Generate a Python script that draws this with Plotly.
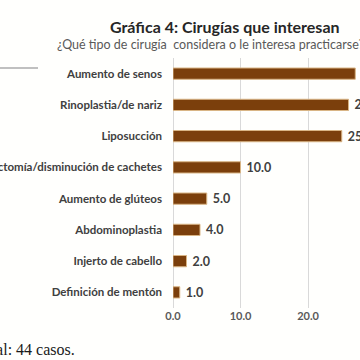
import plotly.graph_objects as go

categories = ["Aumento de senos", "Rinoplastia/de nariz", "Liposucción",
              "Bichectomía/disminución de cachetes", "Aumento de glúteos",
              "Abdominoplastia", "Injerto de cabello", "Definición de mentón"]
values = [27.0, 26.0, 25.0, 10.0, 5.0, 4.0, 2.0, 1.0]
tick_vals = [0, 10, 20]
tick_text = ["0.0", "10.0", "20.0"]

W, H = 360, 360
L, R, T, B = 173, 0, 58, 52
pw, ph = W - L - R, H - T - B

def px(x):
    return (x - L) / pw

def py(y):
    return (H - B - y) / ph

fig = go.Figure(go.Bar(
    x=values, y=categories, orientation="h",
    marker=dict(color="#7b3f0c", line=dict(color="#d9b585", width=1)),
    width=0.36,
    text=[" " + f"{v:.1f}" for v in values],
    textposition="outside", cliponaxis=False, constraintext="none",
    textfont=dict(family="Lato", size=12.5, color="#404040", weight="bold"),
))

fig.update_layout(
    width=W, height=H, margin=dict(l=L, r=R, t=T, b=B, autoexpand=False),
    paper_bgcolor="#fffffd", plot_bgcolor="#fffffd",
    showlegend=False,
    xaxis=dict(range=[0, 27.7], tickvals=tick_vals, ticktext=tick_text,
               showgrid=True, gridcolor="#d9d9d9", gridwidth=1,
               zeroline=True, zerolinecolor="#d9d9d9", zerolinewidth=1,
               showline=False, ticks="",
               tickfont=dict(family="Lato", size=11, color="#595959", weight="bold")),
    yaxis=dict(autorange="reversed", showgrid=False, ticks="", showline=False,
               ticklabelstandoff=10, automargin=False,
               tickfont=dict(family="Lato", size=11.5, color="#404040", weight="bold")),
    annotations=[
        dict(text="<b>Gráfica 4: Cirugías que interesan</b>", xref="paper", yref="paper",
             x=px(225), y=py(27), xanchor="center", yanchor="middle", showarrow=False,
             font=dict(family="Lato", size=16, color="#262626")),
        dict(text="¿Qué tipo de cirugía  considera o le interesa practicarse?",
             xref="paper", yref="paper", x=px(55), y=py(45), xanchor="left",
             yanchor="middle", showarrow=False,
             font=dict(family="Lato", size=12.5, color="#595959")),
        dict(text="Total: 44 casos.", xref="paper", yref="paper", x=px(77), y=py(349),
             xanchor="right", yanchor="middle", showarrow=False,
             font=dict(family="Liberation Serif", size=16, color="#1a1a1a")),
    ],
    shapes=[dict(type="line", xref="paper", yref="paper", x0=px(0), x1=px(38),
                 y0=py(68), y1=py(68), line=dict(color="#c0c0c0", width=2))],
)

fig.write_html("out.html")
